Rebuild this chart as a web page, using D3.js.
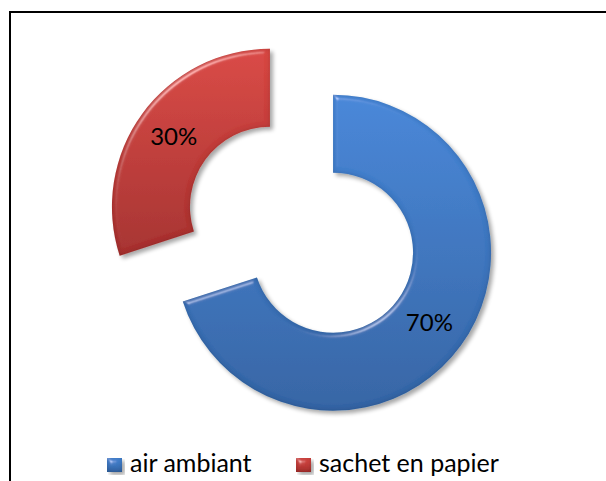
<!DOCTYPE html>
<html>
<head>
<meta charset="utf-8">
<script src="https://cdn.jsdelivr.net/npm/d3@7"></script>
<style>
  body { margin: 0; background: #fff; }
  svg { display: block; }
  text { font-family: Lato, "Open Sans", sans-serif; fill: #000; }
</style>
</head>
<body>
<svg></svg>
<script>
// données
const categories = ["air ambiant", "sachet en papier"];
const valeurs = [70, 30];
const etiquettes = ["70%", "30%"];

const width = 606;
const height = 481;

const svg = d3.select("svg").attr("width", width).attr("height", height);

const couleurs = d3.scaleOrdinal()
    .domain(categories)
    .range([["#4787d8", "#3464a4"], ["#d94844", "#a6312f"]]);

const defs = svg.append("defs");

// dégradés
categories.forEach((c, i) => {
    const g = defs.append("linearGradient")
        .attr("id", "grad" + i)
        .attr("x1", 0).attr("y1", 0).attr("x2", 0).attr("y2", 1);
    g.append("stop").attr("offset", "0%").attr("stop-color", couleurs(c)[0]);
    g.append("stop").attr("offset", "100%").attr("stop-color", couleurs(c)[1]);
});

// biseau + ombre
const filtre = defs.append("filter").attr("id", "biseau")
    .attr("x", "-10%").attr("y", "-10%").attr("width", "125%").attr("height", "125%");
filtre.append("feGaussianBlur").attr("in", "SourceAlpha").attr("stdDeviation", 2.5).attr("result", "flou");
filtre.append("feSpecularLighting").attr("in", "flou").attr("surfaceScale", 4)
    .attr("specularConstant", 0.8).attr("specularExponent", 30)
    .attr("lighting-color", "#ffffff").attr("result", "spec")
    .append("feDistantLight").attr("azimuth", 235).attr("elevation", 30);
filtre.append("feComposite").attr("in", "spec").attr("in2", "SourceAlpha")
    .attr("operator", "in").attr("result", "spec2");
filtre.append("feComposite").attr("in", "SourceGraphic").attr("in2", "spec2")
    .attr("operator", "arithmetic").attr("k1", 0).attr("k2", 1).attr("k3", 0.45).attr("k4", 0)
    .attr("result", "eclaire");
// bord sombre
filtre.append("feComposite").attr("in", "SourceAlpha").attr("in2", "flou")
    .attr("operator", "out").attr("result", "bord");
filtre.append("feFlood").attr("flood-color", "#000").attr("flood-opacity", 0.35).attr("result", "noir");
filtre.append("feComposite").attr("in", "noir").attr("in2", "bord")
    .attr("operator", "in").attr("result", "bordSombre");
filtre.append("feGaussianBlur").attr("in", "SourceAlpha").attr("stdDeviation", 2).attr("result", "flou2");
filtre.append("feOffset").attr("in", "flou2").attr("dx", 3).attr("dy", 3).attr("result", "decale");
filtre.append("feComponentTransfer").attr("in", "decale").attr("result", "ombre")
    .append("feFuncA").attr("type", "linear").attr("slope", 0.35);
const fusion = filtre.append("feMerge");
fusion.append("feMergeNode").attr("in", "ombre");
fusion.append("feMergeNode").attr("in", "eclaire");
fusion.append("feMergeNode").attr("in", "bordSombre");

// cadre
svg.append("rect")
    .attr("x", 10).attr("y", 12)
    .attr("width", 700).attr("height", 600)
    .attr("fill", "none").attr("stroke", "#000").attr("stroke-width", 2);

// anneau éclaté
const centre = [301.5, 229.75];
const eclatement = 39;

const pie = d3.pie().sort(null).value(d => d);
const arc = d3.arc().innerRadius(80).outerRadius(158);

const parts = pie(valeurs);

const g = svg.append("g").attr("transform", `translate(${centre[0]},${centre[1]})`);

const tranches = g.selectAll("g.tranche")
    .data(parts)
    .join("g")
    .attr("class", "tranche")
    .attr("transform", d => {
        const a = (d.startAngle + d.endAngle) / 2;
        return `translate(${Math.sin(a) * eclatement},${-Math.cos(a) * eclatement})`;
    });

tranches.append("path")
    .attr("d", arc)
    .attr("fill", (d, i) => `url(#grad${i})`)
    .attr("filter", "url(#biseau)");

tranches.append("text")
    .attr("transform", d => `translate(${arc.centroid(d)})`)
    .attr("text-anchor", "middle")
    .attr("dy", "0.35em")
    .style("font-size", "24px")
    .text((d, i) => etiquettes[i]);

// légende
const legende = svg.append("g");
const posLegende = d3.scaleOrdinal().domain(categories).range([107, 296]);

const items = legende.selectAll("g")
    .data(categories)
    .join("g")
    .attr("transform", d => `translate(${posLegende(d)},458)`);

items.append("rect")
    .attr("width", 15).attr("height", 14)
    .attr("fill", (d, i) => `url(#grad${i})`)
    .attr("filter", "url(#biseau)");

items.append("text")
    .attr("x", 23).attr("y", 14)
    .style("font-size", "25px")
    .text(d => d);
</script>
</body>
</html>
